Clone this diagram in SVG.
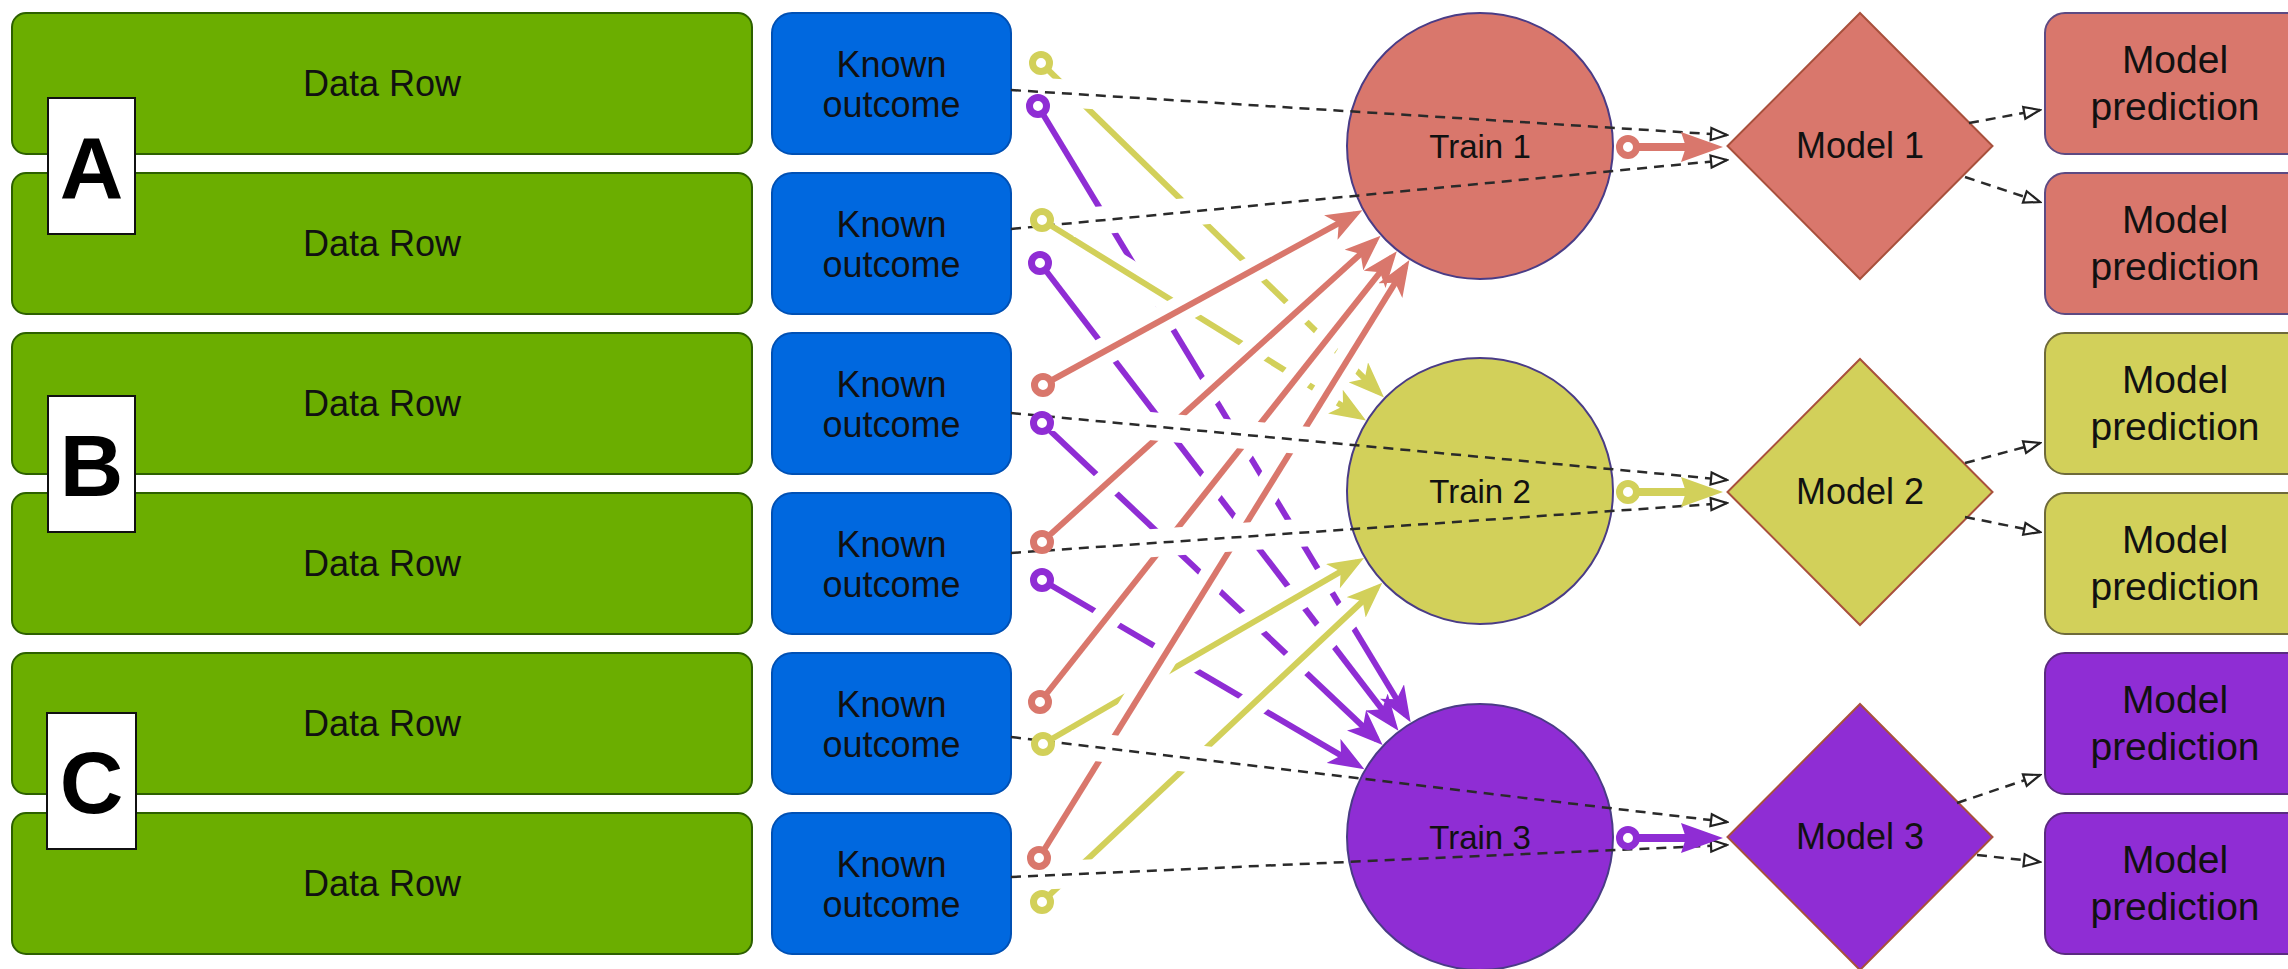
<svg xmlns="http://www.w3.org/2000/svg" width="2288" height="969" viewBox="0 0 2288 969">
<style>
text { font-family: "Liberation Sans", Arial, sans-serif; fill: #111; text-anchor: middle; }
.data rect { fill: #6bae00; stroke: #2d6000; stroke-width: 2; }
.data text { font-size: 36px; }
.known rect { fill: #0068df; stroke: #0050b4; stroke-width: 2; }
.known text { font-size: 36px; }
.letter rect { fill: #fff; stroke: #111; stroke-width: 2; }
.letter text { font-size: 88px; font-weight: bold; fill: #000; }
.train circle { stroke: #4a3c86; stroke-width: 2; }
.train text { font-size: 33px; }
.model polygon { stroke: #a8503c; stroke-width: 2; }
.model text { font-size: 36px; }
.pred rect { stroke-width: 2; }
.pred text { font-size: 39px; }
.cr { fill: #d9776c; }
.cy { fill: #d2d05a; }
.cp { fill: #8f2dd4; }
.dash { fill: none; stroke: #2a2a2a; stroke-width: 2.5; stroke-dasharray: 10 7; marker-end: url(#open); }
.ln-r { fill: none; stroke: #d9776c; stroke-width: 6; }
.ln-y { fill: none; stroke: #d2d05a; stroke-width: 6; }
.ln-p { fill: none; stroke: #8f2dd4; stroke-width: 6; }
.mk-r { fill: none; stroke: none; marker-start: url(#dot-r); marker-end: url(#arr-r); }
.mk-y { fill: none; stroke: none; marker-start: url(#dot-y); marker-end: url(#arr-y); }
.mk-p { fill: none; stroke: none; marker-start: url(#dot-p); marker-end: url(#arr-p); }
.tm { stroke-width: 8; }
.bk-r { fill: none; stroke: none; marker-start: url(#dot-r); marker-end: url(#big-r); }
.bk-y { fill: none; stroke: none; marker-start: url(#dot-y); marker-end: url(#big-y); }
.bk-p { fill: none; stroke: none; marker-start: url(#dot-p); marker-end: url(#big-p); }
</style>
<defs>
  <marker id="open" viewBox="0 0 20 16" refX="18" refY="8" markerWidth="20" markerHeight="16" markerUnits="userSpaceOnUse" orient="auto">
    <path d="M2,2 L18,8 L2,14 Z" fill="#fff" stroke="#222" stroke-width="2.2"/>
  </marker>
  <marker id="arr-r" viewBox="0 0 36 28" refX="28" refY="14" markerWidth="36" markerHeight="28" markerUnits="userSpaceOnUse" orient="auto"><path d="M0,0 L36,14 L0,28 L9,14 Z" fill="#d9776c"/></marker>
  <marker id="arr-y" viewBox="0 0 36 28" refX="28" refY="14" markerWidth="36" markerHeight="28" markerUnits="userSpaceOnUse" orient="auto"><path d="M0,0 L36,14 L0,28 L9,14 Z" fill="#d2d05a"/></marker>
  <marker id="arr-p" viewBox="0 0 36 28" refX="28" refY="14" markerWidth="36" markerHeight="28" markerUnits="userSpaceOnUse" orient="auto"><path d="M0,0 L36,14 L0,28 L9,14 Z" fill="#8f2dd4"/></marker>
  <marker id="big-r" viewBox="0 0 42 30" refX="30" refY="15" markerWidth="42" markerHeight="30" markerUnits="userSpaceOnUse" orient="auto"><path d="M0,0 L42,15 L0,30 L5,15 Z" fill="#d9776c"/></marker>
  <marker id="big-y" viewBox="0 0 42 30" refX="30" refY="15" markerWidth="42" markerHeight="30" markerUnits="userSpaceOnUse" orient="auto"><path d="M0,0 L42,15 L0,30 L5,15 Z" fill="#d2d05a"/></marker>
  <marker id="big-p" viewBox="0 0 42 30" refX="30" refY="15" markerWidth="42" markerHeight="30" markerUnits="userSpaceOnUse" orient="auto"><path d="M0,0 L42,15 L0,30 L5,15 Z" fill="#8f2dd4"/></marker>
  <marker id="dot-r" viewBox="-13 -13 26 26" refX="0" refY="0" markerWidth="26" markerHeight="26" markerUnits="userSpaceOnUse"><circle r="8.5" fill="#fff" stroke="#d9776c" stroke-width="7"/></marker>
  <marker id="dot-y" viewBox="-13 -13 26 26" refX="0" refY="0" markerWidth="26" markerHeight="26" markerUnits="userSpaceOnUse"><circle r="8.5" fill="#fff" stroke="#d2d05a" stroke-width="7"/></marker>
  <marker id="dot-p" viewBox="-13 -13 26 26" refX="0" refY="0" markerWidth="26" markerHeight="26" markerUnits="userSpaceOnUse"><circle r="8.5" fill="#fff" stroke="#8f2dd4" stroke-width="7"/></marker>

  <path id="d1" d="M1011,90 L1727,135"/>
  <path id="d2" d="M1011,229 L1727,160"/>
  <path id="d3" d="M1011,413 L1727,480"/>
  <path id="d4" d="M1011,553 L1727,503"/>
  <path id="d5" d="M1011,737 L1727,822"/>
  <path id="d6" d="M1011,877 L1727,845"/>
  <path id="o1a" d="M1969,123 L2040,110"/>
  <path id="o1b" d="M1965,177 L2040,202"/>
  <path id="o2a" d="M1965,463 L2040,443"/>
  <path id="o2b" d="M1965,517 L2040,532"/>
  <path id="o3a" d="M1957,803 L2040,775"/>
  <path id="o3b" d="M1977,855 L2040,862"/>
  <path id="r3" d="M1043,385 L1355.4,214.1"/>
  <path id="r4" d="M1042,542 L1374.7,241.2"/>
  <path id="r5" d="M1040,702 L1391.9,257.4"/>
  <path id="r6" d="M1039,858 L1405.2,266.7"/>
  <path id="y1" d="M1041,63 L1378.3,391.9"/>
  <path id="y2" d="M1042,220 L1359.2,416.3"/>
  <path id="y5" d="M1043,744 L1357.1,562.1"/>
  <path id="y6" d="M1042,902 L1376.5,588.2"/>
  <path id="p1" d="M1038,106 L1406.5,715.5"/>
  <path id="p2" d="M1040,263 L1393.6,724.3"/>
  <path id="p3" d="M1042,423 L1376.8,739.5"/>
  <path id="p4" d="M1042,580 L1357.5,765.1"/>
  <path id="tm1" d="M1628,147 L1711,147"/>
  <path id="tm2" d="M1628,492 L1711,492"/>
  <path id="tm3" d="M1628,838 L1711,838"/>

  <mask id="mk-r" maskUnits="userSpaceOnUse" x="0" y="0" width="2288" height="969">
    <rect width="2288" height="969" fill="#fff"/>
    <g fill="none" stroke="#000" stroke-width="28">
      <use href="#d1"/><use href="#d2"/><use href="#d3"/><use href="#d4"/><use href="#d5"/><use href="#d6"/>
    </g>
  </mask>
  <mask id="mk-y" maskUnits="userSpaceOnUse" x="0" y="0" width="2288" height="969">
    <rect width="2288" height="969" fill="#fff"/>
    <g fill="none" stroke="#000" stroke-width="28">
      <use href="#d1"/><use href="#d2"/><use href="#d3"/><use href="#d4"/><use href="#d5"/><use href="#d6"/>
      <use href="#r3"/><use href="#r4"/><use href="#r5"/><use href="#r6"/>
    </g>
    <circle cx="1042" cy="220" r="36" fill="#fff"/>
    <circle cx="1043" cy="744" r="32" fill="#fff"/>
  </mask>
  <mask id="mk-p" maskUnits="userSpaceOnUse" x="0" y="0" width="2288" height="969">
    <rect width="2288" height="969" fill="#fff"/>
    <g fill="none" stroke="#000" stroke-width="28">
      <use href="#d1"/><use href="#d2"/><use href="#d3"/><use href="#d4"/><use href="#d5"/><use href="#d6"/>
      <use href="#r3"/><use href="#r4"/><use href="#r5"/><use href="#r6"/>
      <use href="#y1"/><use href="#y2"/><use href="#y5"/><use href="#y6"/>
    </g>
  </mask>
</defs>

<rect width="2288" height="969" fill="#fff"/>

<g id="data-row-1" class="data"><rect x="12" y="13" width="740" height="141" rx="14"/><text x="382" y="96">Data Row</text></g>
<g id="data-row-2" class="data"><rect x="12" y="173" width="740" height="141" rx="14"/><text x="382" y="256">Data Row</text></g>
<g id="data-row-3" class="data"><rect x="12" y="333" width="740" height="141" rx="14"/><text x="382" y="416">Data Row</text></g>
<g id="data-row-4" class="data"><rect x="12" y="493" width="740" height="141" rx="14"/><text x="382" y="576">Data Row</text></g>
<g id="data-row-5" class="data"><rect x="12" y="653" width="740" height="141" rx="14"/><text x="382" y="736">Data Row</text></g>
<g id="data-row-6" class="data"><rect x="12" y="813" width="740" height="141" rx="14"/><text x="382" y="896">Data Row</text></g>

<g id="known-1" class="known"><rect x="772" y="13" width="239" height="141" rx="20"/><text x="891.5" y="77">Known</text><text x="891.5" y="117">outcome</text></g>
<g id="known-2" class="known"><rect x="772" y="173" width="239" height="141" rx="20"/><text x="891.5" y="237">Known</text><text x="891.5" y="277">outcome</text></g>
<g id="known-3" class="known"><rect x="772" y="333" width="239" height="141" rx="20"/><text x="891.5" y="397">Known</text><text x="891.5" y="437">outcome</text></g>
<g id="known-4" class="known"><rect x="772" y="493" width="239" height="141" rx="20"/><text x="891.5" y="557">Known</text><text x="891.5" y="597">outcome</text></g>
<g id="known-5" class="known"><rect x="772" y="653" width="239" height="141" rx="20"/><text x="891.5" y="717">Known</text><text x="891.5" y="757">outcome</text></g>
<g id="known-6" class="known"><rect x="772" y="813" width="239" height="141" rx="20"/><text x="891.5" y="877">Known</text><text x="891.5" y="917">outcome</text></g>

<g id="label-A" class="letter"><rect x="48" y="98" width="87" height="136"/><text x="91.5" y="198">A</text></g>
<g id="label-B" class="letter"><rect x="48" y="396" width="87" height="136"/><text x="91.5" y="496">B</text></g>
<g id="label-C" class="letter"><rect x="47" y="713" width="89" height="136"/><text x="91.5" y="813">C</text></g>

<g id="train-1" class="train"><circle cx="1480" cy="146" r="133" class="cr"/><text x="1480" y="158">Train 1</text></g>
<g id="train-2" class="train"><circle cx="1480" cy="491" r="133" class="cy"/><text x="1480" y="503">Train 2</text></g>
<g id="train-3" class="train"><circle cx="1480" cy="837" r="133" class="cp"/><text x="1480" y="849">Train 3</text></g>

<g id="model-1" class="model"><polygon points="1860,13 1992.5,146 1860,279 1727.5,146" class="cr"/><text x="1860" y="158">Model 1</text></g>
<g id="model-2" class="model"><polygon points="1860,359 1992.5,492 1860,625 1727.5,492" class="cy"/><text x="1860" y="504">Model 2</text></g>
<g id="model-3" class="model"><polygon points="1860,704 1992.5,837 1860,970 1727.5,837" class="cp"/><text x="1860" y="849">Model 3</text></g>

<g id="pred-1a" class="pred"><rect x="2045" y="13" width="270" height="141" rx="20" class="cr" stroke="#5d4a82"/><text x="2175" y="73">Model</text><text x="2175" y="120">prediction</text></g>
<g id="pred-1b" class="pred"><rect x="2045" y="173" width="270" height="141" rx="20" class="cr" stroke="#5d4a82"/><text x="2175" y="233">Model</text><text x="2175" y="280">prediction</text></g>
<g id="pred-2a" class="pred"><rect x="2045" y="333" width="270" height="141" rx="20" class="cy" stroke="#6e6a3a"/><text x="2175" y="393">Model</text><text x="2175" y="440">prediction</text></g>
<g id="pred-2b" class="pred"><rect x="2045" y="493" width="270" height="141" rx="20" class="cy" stroke="#6e6a3a"/><text x="2175" y="553">Model</text><text x="2175" y="600">prediction</text></g>
<g id="pred-3a" class="pred"><rect x="2045" y="653" width="270" height="141" rx="20" class="cp" stroke="#5a2a80"/><text x="2175" y="713">Model</text><text x="2175" y="760">prediction</text></g>
<g id="pred-3b" class="pred"><rect x="2045" y="813" width="270" height="141" rx="20" class="cp" stroke="#5a2a80"/><text x="2175" y="873">Model</text><text x="2175" y="920">prediction</text></g>

<g id="connectors">
  <g class="dash">
    <use href="#d1"/><use href="#d2"/><use href="#d3"/><use href="#d4"/><use href="#d5"/><use href="#d6"/>
    <use href="#o1a"/><use href="#o1b"/><use href="#o2a"/><use href="#o2b"/><use href="#o3a"/><use href="#o3b"/>
  </g>
  <g class="ln-r" mask="url(#mk-r)"><use href="#r3"/><use href="#r4"/><use href="#r5"/><use href="#r6"/></g>
  <g class="mk-r"><use href="#r3"/><use href="#r4"/><use href="#r5"/><use href="#r6"/></g>
  <g class="ln-y" mask="url(#mk-y)"><use href="#y1"/><use href="#y2"/><use href="#y5"/><use href="#y6"/></g>
  <g class="mk-y"><use href="#y1"/><use href="#y2"/><use href="#y5"/><use href="#y6"/></g>
  <g class="ln-p" mask="url(#mk-p)"><use href="#p1"/><use href="#p2"/><use href="#p3"/><use href="#p4"/></g>
  <g class="mk-p"><use href="#p1"/><use href="#p2"/><use href="#p3"/><use href="#p4"/></g>
  <use href="#tm1" class="ln-r tm"/><use href="#tm1" class="bk-r"/>
  <use href="#tm2" class="ln-y tm"/><use href="#tm2" class="bk-y"/>
  <use href="#tm3" class="ln-p tm"/><use href="#tm3" class="bk-p"/>
</g>
</svg>
